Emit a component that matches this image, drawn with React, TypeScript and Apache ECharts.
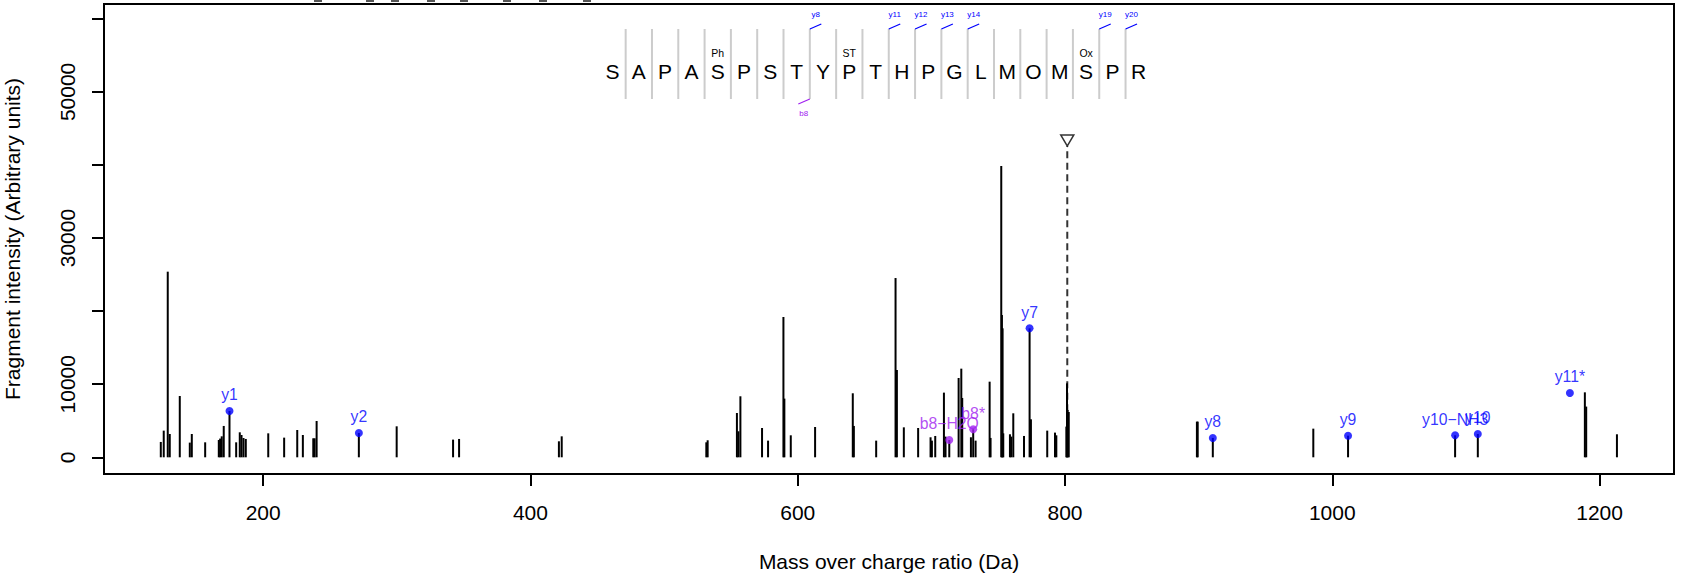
import React, { useEffect, useRef } from "react";
import * as echarts from "echarts";

// ---- Data ----
const peakMz = [
  123.4, 125.6, 128.6, 130.1, 137.6, 145.1, 146.6, 156.6, 166.8, 167.8, 169.0, 170.5,
  174.8, 179.8, 182.5, 183.8, 185.3, 187.0, 203.8, 215.7, 225.5, 229.7, 237.5, 238.5,
  240.0, 271.6, 299.9, 342.1, 346.6, 421.3, 423.4, 531.6, 532.6, 554.5, 555.6, 557.1,
  573.3, 577.8, 589.3, 590.0, 594.8, 613.0, 641.2, 642.0, 658.7, 673.2, 674.2, 679.4,
  690.1, 699.4, 700.4, 702.9, 709.4, 710.6, 713.4, 720.4, 722.4, 723.1, 729.6, 731.3,
  733.1, 743.6, 744.3, 752.3, 752.8, 753.3, 753.8, 758.8, 759.8, 761.3, 769.3, 773.5,
  774.5, 786.7, 792.5, 793.5, 801.0, 801.5, 802.0, 802.8, 898.7, 899.3, 910.6, 985.8,
  1011.8, 1091.9, 1108.9, 1189.0, 1190.0, 1213.0,
];
const peakIntensity = [
  2100, 3650, 25400, 3190, 8390, 2010, 3190, 2050, 2370, 2560, 2870, 4290,
  6340, 2050, 3420, 3050, 2640, 2510, 3280, 2690, 3740, 3050, 2600, 2600,
  4970, 3330, 4240, 2420, 2510, 2190, 2870, 2050, 2330, 6060, 3560, 8350,
  4010, 2280, 19200, 8030, 3010, 4150, 8760, 4290, 2280, 24530, 11950, 4100,
  4010, 2740, 2280, 2920, 8850, 2830, 2370, 10850, 12130, 8120, 2740, 3830,
  2280, 10350, 2650, 39860, 19470, 17650, 3280, 3150, 2830, 6020, 2920, 17650,
  5200, 3650, 3380, 3010, 4200, 10120, 6480, 6200, 4880, 4880, 2650, 3920,
  2960, 3010, 3190, 8890, 6940, 3150,
];

const annLabels = ["y1", "y2", "b8\u2212H2O", "b8*", "y7", "y8", "y9", "y10\u2212NH3", "y10", "y11*"];
const annMz = [174.8, 271.6, 713.4, 731.3, 773.5, 910.6, 1011.8, 1091.9, 1108.9, 1177.8];
const annIntensity = [6340, 3330, 2370, 3830, 17650, 2650, 2960, 3010, 3190, 8800];
const annKind = ["y", "y", "b", "b", "y", "y", "y", "y", "y", "y"];

const precursorMz = 801.7;
const precursorIntensity = 42600;

const xTicks = [200, 400, 600, 800, 1000, 1200];
const yTicks = [0, 10000, 20000, 30000, 40000, 50000, 60000];
const yTickLabels = [0, 10000, 30000, 50000];

const sequence = ["S", "A", "P", "A", "S", "P", "S", "T", "Y", "P", "T", "H", "P", "G", "L", "M", "O", "M", "S", "P", "R"];
const modPositions = [4, 9, 18];
const modLabels = ["Ph", "ST", "Ox"];
const yFragSeps = [7, 10, 11, 12, 13, 18, 19];
const yFragLabels = ["y8", "y11", "y12", "y13", "y14", "y19", "y20"];
const bFragSeps = [7];
const bFragLabels = ["b8"];

const clippedTitleMarks = [318, 370, 395, 431, 464, 507, 543, 587];

// ---- Styling ----
const FONT = "'Liberation Sans', Arial, Helvetica, sans-serif";
const BLUE = "#0000FF";
const PURPLE = "#A020F0";

export default function App() {
  const ref = useRef<HTMLDivElement>(null);

  useEffect(() => {
    if (!ref.current) return;
    const chart = echarts.init(ref.current, null, { renderer: "svg" });

    const seqX0 = 612.5;
    const seqStep = 26.31;
    const letterY = 71;
    const sepTop = 29;
    const sepBottom = 99;

    const graphics: any[] = [];
    sequence.forEach((ch, i) => {
      graphics.push({
        type: "text",
        x: seqX0 + i * seqStep,
        y: letterY,
        style: { text: ch, font: `21px ${FONT}`, fill: "#000", align: "center", verticalAlign: "middle" },
      });
    });
    for (let i = 0; i < sequence.length - 1; i++) {
      const sx = seqX0 + (i + 0.5) * seqStep;
      graphics.push({
        type: "line",
        shape: { x1: sx, y1: sepTop, x2: sx, y2: sepBottom },
        style: { stroke: "#CCCCCC", lineWidth: 2 },
      });
    }
    modPositions.forEach((p, k) => {
      graphics.push({
        type: "text",
        x: seqX0 + p * seqStep,
        y: 53,
        style: { text: modLabels[k], font: `10.5px ${FONT}`, fill: "#000", align: "center", verticalAlign: "middle" },
      });
    });
    yFragSeps.forEach((s, k) => {
      const sx = seqX0 + (s + 0.5) * seqStep;
      graphics.push({
        type: "line",
        shape: { x1: sx, y1: sepTop, x2: sx + 11.5, y2: sepTop - 5 },
        style: { stroke: BLUE, lineWidth: 1.2 },
      });
      graphics.push({
        type: "text",
        x: sx + 6,
        y: 14,
        style: { text: yFragLabels[k], font: `8px ${FONT}`, fill: BLUE, align: "center", verticalAlign: "middle" },
      });
    });
    bFragSeps.forEach((s, k) => {
      const sx = seqX0 + (s + 0.5) * seqStep;
      graphics.push({
        type: "line",
        shape: { x1: sx, y1: sepBottom, x2: sx - 11.5, y2: sepBottom + 5 },
        style: { stroke: PURPLE, lineWidth: 1.2 },
      });
      graphics.push({
        type: "text",
        x: sx - 6,
        y: 113,
        style: { text: bFragLabels[k], font: `8px ${FONT}`, fill: PURPLE, align: "center", verticalAlign: "middle" },
      });
    });
    clippedTitleMarks.forEach((x) => {
      graphics.push({
        type: "rect",
        shape: { x: x - 4, y: 0, width: 8, height: 2 },
        style: { fill: "#555" },
      });
    });

    const annData = annMz.map((m, i) => ({
      value: [m, annIntensity[i]],
      name: annLabels[i],
      itemStyle: { color: annKind[i] === "b" ? PURPLE : BLUE },
      label: { color: annKind[i] === "b" ? PURPLE : BLUE },
    }));

    chart.setOption({
      animation: false,
      backgroundColor: "#fff",
      textStyle: { fontFamily: FONT },
      grid: {
        left: 104,
        right: 11,
        top: 4,
        bottom: 108,
        show: true,
        borderColor: "#000",
        borderWidth: 2,
        backgroundColor: "transparent",
        containLabel: false,
        outerBoundsMode: "none",
      },
      xAxis: {
        type: "value",
        min: 80.9,
        max: 1255.7,
        name: "Mass over charge ratio (Da)",
        nameLocation: "middle",
        nameGap: 77,
        nameTextStyle: { fontSize: 21, color: "#000", fontFamily: FONT },
        axisLine: { show: false, onZero: false },
        splitLine: { show: false },
        axisTick: { show: true, length: 12, customValues: xTicks, lineStyle: { color: "#000", width: 2 } },
        axisLabel: {
          customValues: xTicks,
          fontSize: 21,
          color: "#000",
          margin: 28,
          fontFamily: FONT,
          formatter: (v: number) => String(v),
        },
      },
      yAxis: {
        type: "value",
        min: -2285,
        max: 62028,
        name: "Fragment intensity (Arbitrary units)",
        nameLocation: "middle",
        nameGap: 81,
        nameTextStyle: { fontSize: 21, color: "#000", fontFamily: FONT },
        axisLine: { show: false, onZero: false },
        splitLine: { show: false },
        axisTick: { show: true, length: 12, customValues: yTicks, lineStyle: { color: "#000", width: 2 } },
        axisLabel: {
          customValues: yTickLabels,
          rotate: 90,
          fontSize: 21,
          color: "#000",
          margin: 26,
          fontFamily: FONT,
          formatter: (v: number) => String(v),
        },
      },
      series: [
        {
          type: "custom",
          name: "peaks",
          data: peakMz.map((m, i) => [m, peakIntensity[i]]),
          encode: { x: 0, y: 1 },
          renderItem: (params: any, api: any) => {
            const top = api.coord([api.value(0), api.value(1)]);
            const base = api.coord([api.value(0), 0]);
            return {
              type: "line",
              shape: { x1: top[0], y1: base[1], x2: top[0], y2: top[1] },
              style: { stroke: "#000", lineWidth: 2 },
            };
          },
          z: 2,
        },
        {
          type: "line",
          name: "precursor",
          data: [
            [precursorMz, 0],
            [precursorMz, precursorIntensity],
          ],
          showSymbol: false,
          symbol: "none",
          lineStyle: { color: "#333", width: 2, type: [7, 4.5] },
          z: 1,
        },
        {
          type: "scatter",
          name: "precursorMarker",
          data: [[precursorMz, precursorIntensity]],
          symbol: "triangle",
          symbolSize: [13, 11],
          symbolRotate: 180,
          symbolOffset: [0, -5.5],
          itemStyle: { color: "rgba(0,0,0,0)", borderColor: "#000", borderWidth: 1.5 },
          z: 3,
        },
        {
          type: "scatter",
          name: "annotations",
          data: annData,
          symbol: "circle",
          symbolSize: 8,
          label: {
            show: true,
            position: "top",
            distance: 4,
            formatter: (p: any) => p.name,
            fontSize: 15.75,
            fontFamily: FONT,
          },
          z: 4,
        },
      ],
      graphic: graphics,
    });

    return () => chart.dispose();
  }, []);

  return (
    <div
      ref={ref}
      style={{ position: "absolute", left: 0, top: 0, width: 1685, height: 582, background: "#fff" }}
    />
  );
}
